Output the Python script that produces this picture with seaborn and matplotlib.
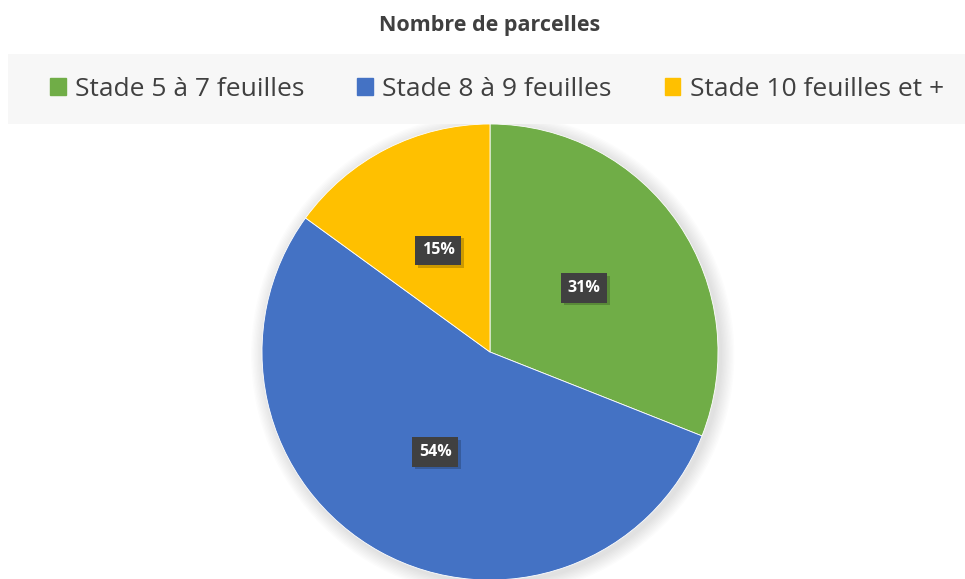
import matplotlib
matplotlib.use("Agg")
import matplotlib.pyplot as plt
import matplotlib.patches as mpatches
import matplotlib.patheffects as pe
import seaborn as sns

# Data
categories = ["Stade 5 à 7 feuilles", "Stade 8 à 9 feuilles", "Stade 10 feuilles et +"]
values = [31, 54, 15]
colors = ["#70AD47", "#4472C4", "#FFC000"]
title = "Nombre de parcelles"

sns.set_theme(style="white")
plt.rcParams['font.family'] = ['Open Sans', 'DejaVu Sans']

fig = plt.figure(figsize=(9.65, 5.79), dpi=100)
fig.patch.set_facecolor("white")

# legend band
band = mpatches.Rectangle((8 / 965, 1 - 124 / 579), 1 - 8 / 965, 70 / 579,
                          transform=fig.transFigure, facecolor="#F7F7F7",
                          edgecolor="none", zorder=0)
fig.patches.append(band)

fig.text(490 / 965, 1 - 25 / 579, title, ha="center", va="center",
         fontsize=15.5, fontweight="bold", color="#404040")

# pie axes
r = 228
ax = fig.add_axes([(490 - r) / 965, (579 - 352 - r) / 579, 2 * r / 965, 2 * r / 579])

# soft shadow around the pie
for i in range(10):
    ax.add_patch(mpatches.Circle((0.012, -0.012), 1.0 + 0.006 * (10 - i),
                                 facecolor="black", edgecolor="none",
                                 alpha=0.012, zorder=0, clip_on=False))

wedges, texts, autotexts = ax.pie(
    values, colors=colors, startangle=90, counterclock=False,
    autopct=lambda p: f"{p:.0f}%", pctdistance=0.5,
    wedgeprops=dict(edgecolor="white", linewidth=0.6),
    textprops=dict(color="white", fontsize=11.5, fontweight="bold"))

ax.set_xlim(-1, 1)
ax.set_ylim(-1, 1)
ax.set_aspect("equal")
ax.axis("off")

for t in autotexts:
    t.set_bbox(dict(boxstyle="square,pad=0.42", facecolor="#404040", edgecolor="none"))
    t.get_bbox_patch().set_path_effects(
        [pe.withSimplePatchShadow(offset=(2, -2), shadow_rgbFace="black", alpha=0.2)])

handles = [mpatches.Patch(color=c, label=l) for c, l in zip(colors, categories)]
leg = fig.legend(handles=handles, loc="center", bbox_to_anchor=(497 / 965, 1 - 89 / 579),
                 ncol=3, frameon=False, fontsize=19, handlelength=0.6,
                 handleheight=0.6, handletextpad=0.35, columnspacing=2.0,
                 labelcolor="#404040")

fig.savefig("out.png", dpi=100)
